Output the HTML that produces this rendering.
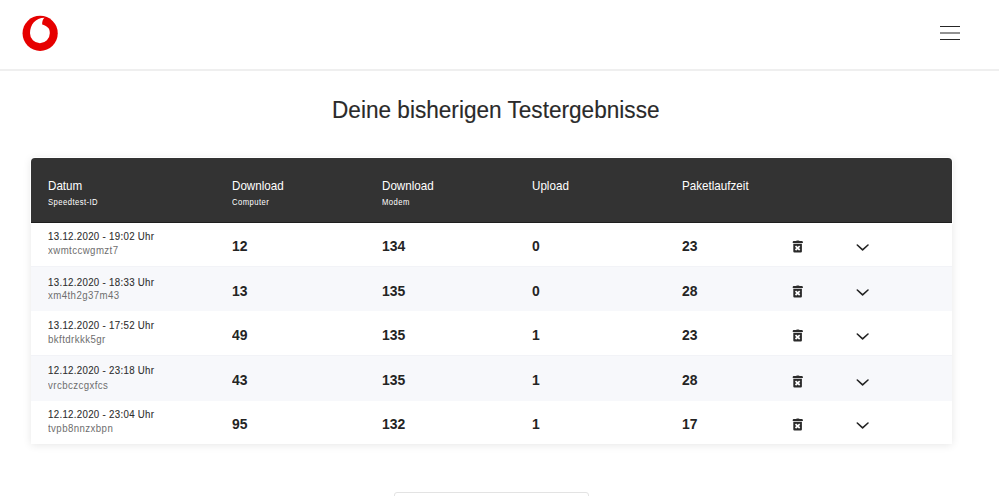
<!DOCTYPE html>
<html><head><meta charset="utf-8">
<style>
*{margin:0;padding:0;box-sizing:border-box}
html,body{width:999px;height:496px;overflow:hidden;background:#fff;font-family:"Liberation Sans",sans-serif;color:#333}
.hdr{position:absolute;left:0;top:0;width:999px;height:71px;background:#fff;border-bottom:2px solid #efefef}
.logo{position:absolute;left:22px;top:15px}
.burger{position:absolute;left:930px;top:16px}
.title{position:absolute;left:332px;top:95.9px;font-size:24.6px;color:#2a2a2a;white-space:nowrap;transform:scaleX(0.919);transform-origin:0 0;-webkit-text-stroke:0.15px #2a2a2a}
.card{position:absolute;left:31px;top:158px;width:921px;height:285.5px;background:#fff;border-radius:3px 3px 0 0;box-shadow:0 1px 9px rgba(0,0,0,0.1)}
.thead{position:absolute;left:31px;top:158px;width:921px;height:65px;background:#333;border-radius:4px 4px 0 0;border-bottom:1px solid #1e1e1e;box-shadow:0 0 0 1px #fff}
.row{position:absolute;left:31px;width:921px}
.alt{background:#f7f8fb;border-top:1px solid #f2f3f7}
.t{position:absolute;white-space:nowrap;transform-origin:0 0}
.hl{color:#fff}
.sub{letter-spacing:0.55px}
.d{color:#2e2e2e;-webkit-text-stroke:0.1px #2e2e2e;letter-spacing:0.35px}
.id{color:#6e6e6e;letter-spacing:0.5px}
.n{font-weight:bold;color:#242424}
.ic{position:absolute}
.btn{position:absolute;left:394px;top:492px;width:195px;height:30px;border:1px solid #e3e3e3;border-radius:3px;background:#fff}
</style></head><body>
<div class="hdr"></div>
<svg class="logo" width="36" height="37" viewBox="0 0 36 37">
  <circle cx="18.15" cy="18.35" r="17.6" fill="#e60000"/>
  <path d="M22.5 2.7 C13.5 2.9 8.0 9.5 8.0 18.3 A9.9 9.9 0 0 0 27.8 18.3 C27.8 15.6 27.2 14 26.3 13.0 C24.6 11.2 22.2 10.2 20.2 9.6 C19.9 7.2 20.8 4.2 22.5 2.7 Z" fill="#fff"/>
</svg>
<svg class="burger" width="40" height="30" viewBox="0 0 40 30">
  <path d="M10 10.5 H30 M10 17 H30 M10 23.5 H30" stroke="#262626" stroke-width="1.2"/>
</svg>
<div class="title">Deine bisherigen Testergebnisse</div>
<div class="card"></div>
<div class="thead"></div>
<div class="t hl" style="left:47.5px;top:177.81px;font-size:13px;transform:scaleX(0.895)">Datum</div>
<div class="t hl sub" style="left:47.5px;top:196.29px;font-size:9.6px;transform:scaleX(0.8)">Speedtest-ID</div>
<div class="t hl" style="left:231.5px;top:177.81px;font-size:13px;transform:scaleX(0.895)">Download</div>
<div class="t hl sub" style="left:231.5px;top:196.29px;font-size:9.6px;transform:scaleX(0.8)">Computer</div>
<div class="t hl" style="left:381.5px;top:177.81px;font-size:13px;transform:scaleX(0.895)">Download</div>
<div class="t hl sub" style="left:381.5px;top:196.29px;font-size:9.6px;transform:scaleX(0.8)">Modem</div>
<div class="t hl" style="left:531.5px;top:177.81px;font-size:13px;transform:scaleX(0.895)">Upload</div>
<div class="t hl" style="left:681.5px;top:177.81px;font-size:13px;transform:scaleX(0.895)">Paketlaufzeit</div>
<div class="row alt" style="top:266px;height:45px"></div>
<div class="row alt" style="top:355px;height:45.5px"></div>
<div class="t d" style="left:47.8px;top:229.87px;font-size:11px;transform:scaleX(0.88)">13.12.2020 - 19:02 Uhr</div>
<div class="t id" style="left:48.0px;top:244.02px;font-size:11.5px;transform:scaleX(0.84)">xwmtccwgmzt7</div>
<div class="t n" style="left:232px;top:238.47px;font-size:14.5px;transform:scaleX(0.96)">12</div>
<div class="t n" style="left:382px;top:238.47px;font-size:14.5px;transform:scaleX(0.96)">134</div>
<div class="t n" style="left:531.5px;top:238.47px;font-size:14.5px;transform:scaleX(0.96)">0</div>
<div class="t n" style="left:681.5px;top:238.47px;font-size:14.5px;transform:scaleX(0.96)">23</div>
<svg class="ic" style="left:792px;top:240.0px" width="12" height="14" viewBox="0 0 12 14"><path d="M0.7 2.2 Q0.7 1.1 1.8 1.1 H4 Q4.3 0.4 5 0.4 H6.6 Q7.3 0.4 7.6 1.1 H9.8 Q10.9 1.1 10.9 2.2 V2.9 H0.7 Z" fill="#2a2a2a"/><path d="M1.3 3.8 H9.9 V11.4 Q9.9 12.5 8.8 12.5 H2.4 Q1.3 12.5 1.3 11.4 Z" fill="#2a2a2a"/><path d="M3.5 6.2 L7.7 10 M7.7 6.2 L3.5 10" stroke="#fff" stroke-width="1.7"/></svg>
<svg class="ic" style="left:850px;top:239.9px" width="25" height="15" viewBox="0 0 25 15"><path d="M7.3 5 L12.6 9.9 L18 5" fill="none" stroke="#222" stroke-width="1.6" stroke-linecap="round" stroke-linejoin="round"/></svg>
<div class="t d" style="left:47.8px;top:276.07px;font-size:11px;transform:scaleX(0.88)">13.12.2020 - 18:33 Uhr</div>
<div class="t id" style="left:48.0px;top:289.42px;font-size:11.5px;transform:scaleX(0.84)">xm4th2g37m43</div>
<div class="t n" style="left:232px;top:282.87px;font-size:14.5px;transform:scaleX(0.96)">13</div>
<div class="t n" style="left:382px;top:282.87px;font-size:14.5px;transform:scaleX(0.96)">135</div>
<div class="t n" style="left:531.5px;top:282.87px;font-size:14.5px;transform:scaleX(0.96)">0</div>
<div class="t n" style="left:681.5px;top:282.87px;font-size:14.5px;transform:scaleX(0.96)">28</div>
<svg class="ic" style="left:792px;top:285.4px" width="12" height="14" viewBox="0 0 12 14"><path d="M0.7 2.2 Q0.7 1.1 1.8 1.1 H4 Q4.3 0.4 5 0.4 H6.6 Q7.3 0.4 7.6 1.1 H9.8 Q10.9 1.1 10.9 2.2 V2.9 H0.7 Z" fill="#2a2a2a"/><path d="M1.3 3.8 H9.9 V11.4 Q9.9 12.5 8.8 12.5 H2.4 Q1.3 12.5 1.3 11.4 Z" fill="#2a2a2a"/><path d="M3.5 6.2 L7.7 10 M7.7 6.2 L3.5 10" stroke="#fff" stroke-width="1.7"/></svg>
<svg class="ic" style="left:850px;top:285.3px" width="25" height="15" viewBox="0 0 25 15"><path d="M7.3 5 L12.6 9.9 L18 5" fill="none" stroke="#222" stroke-width="1.6" stroke-linecap="round" stroke-linejoin="round"/></svg>
<div class="t d" style="left:47.8px;top:318.77px;font-size:11px;transform:scaleX(0.88)">13.12.2020 - 17:52 Uhr</div>
<div class="t id" style="left:48.0px;top:333.22px;font-size:11.5px;transform:scaleX(0.84)">bkftdrkkk5gr</div>
<div class="t n" style="left:232px;top:326.67px;font-size:14.5px;transform:scaleX(0.96)">49</div>
<div class="t n" style="left:382px;top:326.67px;font-size:14.5px;transform:scaleX(0.96)">135</div>
<div class="t n" style="left:531.5px;top:326.67px;font-size:14.5px;transform:scaleX(0.96)">1</div>
<div class="t n" style="left:681.5px;top:326.67px;font-size:14.5px;transform:scaleX(0.96)">23</div>
<svg class="ic" style="left:792px;top:329.2px" width="12" height="14" viewBox="0 0 12 14"><path d="M0.7 2.2 Q0.7 1.1 1.8 1.1 H4 Q4.3 0.4 5 0.4 H6.6 Q7.3 0.4 7.6 1.1 H9.8 Q10.9 1.1 10.9 2.2 V2.9 H0.7 Z" fill="#2a2a2a"/><path d="M1.3 3.8 H9.9 V11.4 Q9.9 12.5 8.8 12.5 H2.4 Q1.3 12.5 1.3 11.4 Z" fill="#2a2a2a"/><path d="M3.5 6.2 L7.7 10 M7.7 6.2 L3.5 10" stroke="#fff" stroke-width="1.7"/></svg>
<svg class="ic" style="left:850px;top:329.1px" width="25" height="15" viewBox="0 0 25 15"><path d="M7.3 5 L12.6 9.9 L18 5" fill="none" stroke="#222" stroke-width="1.6" stroke-linecap="round" stroke-linejoin="round"/></svg>
<div class="t d" style="left:47.8px;top:364.37px;font-size:11px;transform:scaleX(0.88)">12.12.2020 - 23:18 Uhr</div>
<div class="t id" style="left:48.0px;top:378.82px;font-size:11.5px;transform:scaleX(0.84)">vrcbczcgxfcs</div>
<div class="t n" style="left:232px;top:372.27px;font-size:14.5px;transform:scaleX(0.96)">43</div>
<div class="t n" style="left:382px;top:372.27px;font-size:14.5px;transform:scaleX(0.96)">135</div>
<div class="t n" style="left:531.5px;top:372.27px;font-size:14.5px;transform:scaleX(0.96)">1</div>
<div class="t n" style="left:681.5px;top:372.27px;font-size:14.5px;transform:scaleX(0.96)">28</div>
<svg class="ic" style="left:792px;top:374.8px" width="12" height="14" viewBox="0 0 12 14"><path d="M0.7 2.2 Q0.7 1.1 1.8 1.1 H4 Q4.3 0.4 5 0.4 H6.6 Q7.3 0.4 7.6 1.1 H9.8 Q10.9 1.1 10.9 2.2 V2.9 H0.7 Z" fill="#2a2a2a"/><path d="M1.3 3.8 H9.9 V11.4 Q9.9 12.5 8.8 12.5 H2.4 Q1.3 12.5 1.3 11.4 Z" fill="#2a2a2a"/><path d="M3.5 6.2 L7.7 10 M7.7 6.2 L3.5 10" stroke="#fff" stroke-width="1.7"/></svg>
<svg class="ic" style="left:850px;top:374.70000000000005px" width="25" height="15" viewBox="0 0 25 15"><path d="M7.3 5 L12.6 9.9 L18 5" fill="none" stroke="#222" stroke-width="1.6" stroke-linecap="round" stroke-linejoin="round"/></svg>
<div class="t d" style="left:47.8px;top:407.97px;font-size:11px;transform:scaleX(0.88)">12.12.2020 - 23:04 Uhr</div>
<div class="t id" style="left:48.0px;top:422.12px;font-size:11.5px;transform:scaleX(0.84)">tvpb8nnzxbpn</div>
<div class="t n" style="left:232px;top:415.56px;font-size:14.5px;transform:scaleX(0.96)">95</div>
<div class="t n" style="left:382px;top:415.56px;font-size:14.5px;transform:scaleX(0.96)">132</div>
<div class="t n" style="left:531.5px;top:415.56px;font-size:14.5px;transform:scaleX(0.96)">1</div>
<div class="t n" style="left:681.5px;top:415.56px;font-size:14.5px;transform:scaleX(0.96)">17</div>
<svg class="ic" style="left:792px;top:418.09999999999997px" width="12" height="14" viewBox="0 0 12 14"><path d="M0.7 2.2 Q0.7 1.1 1.8 1.1 H4 Q4.3 0.4 5 0.4 H6.6 Q7.3 0.4 7.6 1.1 H9.8 Q10.9 1.1 10.9 2.2 V2.9 H0.7 Z" fill="#2a2a2a"/><path d="M1.3 3.8 H9.9 V11.4 Q9.9 12.5 8.8 12.5 H2.4 Q1.3 12.5 1.3 11.4 Z" fill="#2a2a2a"/><path d="M3.5 6.2 L7.7 10 M7.7 6.2 L3.5 10" stroke="#fff" stroke-width="1.7"/></svg>
<svg class="ic" style="left:850px;top:418.0px" width="25" height="15" viewBox="0 0 25 15"><path d="M7.3 5 L12.6 9.9 L18 5" fill="none" stroke="#222" stroke-width="1.6" stroke-linecap="round" stroke-linejoin="round"/></svg>
<div class="btn"></div>
</body></html>
